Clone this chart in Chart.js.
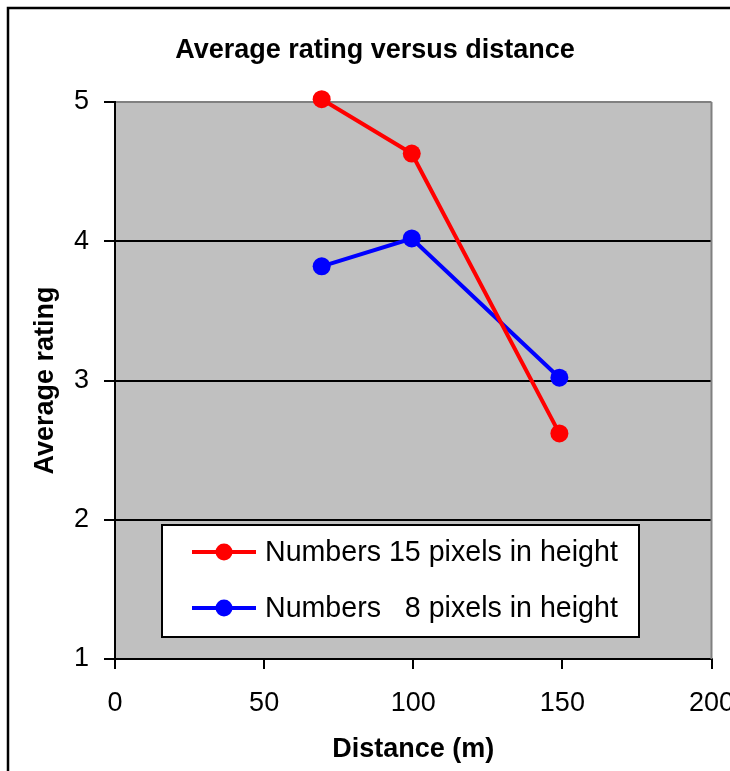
<!DOCTYPE html>
<html>
<head>
<meta charset="utf-8">
<script src="https://cdn.jsdelivr.net/npm/chart.js@4.4.1/dist/chart.umd.min.js"></script>
<style>
  html, body { margin: 0; padding: 0; background: #fff; }
  #wrap { width: 730px; height: 771px; position: relative; }
</style>
</head>
<body>
<div id="wrap"><canvas id="chart"></canvas></div>
<script>
// values
const distances = [69.3, 99.5, 149];
const rating15px = [5.02, 4.63, 2.62];
const rating8px = [3.82, 4.02, 3.02];
const seriesLabels = ['Numbers 15 pixels in height', 'Numbers   8 pixels in height'];
const xTicks = [0, 50, 100, 150, 200];
const yTicks = [1, 2, 3, 4, 5];
const chartTitle = 'Average rating versus distance';

const FONT = 'Liberation Sans, Arial, Helvetica, sans-serif';

const toPoints = (xs, ys) => xs.map((x, i) => ({ x: x, y: ys[i] }));

// grey plot area, frame round the whole chart, title
const backdrop = {
  id: 'backdrop',
  beforeDraw(chart) {
    const { ctx, chartArea: a } = chart;
    ctx.save();
    ctx.fillStyle = '#c0c0c0';
    ctx.fillRect(a.left, a.top, a.right - a.left, a.bottom - a.top);
    ctx.strokeStyle = '#000';
    ctx.lineWidth = 2.5;
    ctx.strokeRect(8, 8, chart.width + 20, chart.height + 20);
    ctx.fillStyle = '#000';
    ctx.font = 'bold 27px ' + FONT;
    ctx.textAlign = 'center';
    ctx.textBaseline = 'middle';
    ctx.fillText(chartTitle, 375, 51);
    ctx.restore();
  },
  beforeDatasetsDraw(chart) {
    const { ctx, chartArea: a } = chart;
    ctx.save();
    ctx.strokeStyle = '#808080';
    ctx.lineWidth = 2;
    ctx.beginPath();
    ctx.moveTo(a.right, a.top);
    ctx.lineTo(a.right, a.bottom);
    ctx.stroke();
    ctx.restore();
  }
};

// boxed legend sitting inside the plot area
const boxLegend = {
  id: 'boxLegend',
  afterDraw(chart) {
    const { ctx, chartArea: a } = chart;
    const x = a.left + 47, y = a.top + 423, w = 477, h = 112;
    ctx.save();
    ctx.fillStyle = '#fff';
    ctx.fillRect(x, y, w, h);
    ctx.strokeStyle = '#000';
    ctx.lineWidth = 2;
    ctx.strokeRect(x, y, w, h);
    chart.data.datasets.forEach((ds, i) => {
      const cy = y + 27 + i * 56;
      ctx.strokeStyle = ds.borderColor;
      ctx.lineWidth = 4;
      ctx.beginPath();
      ctx.moveTo(x + 30, cy);
      ctx.lineTo(x + 94, cy);
      ctx.stroke();
      ctx.fillStyle = ds.backgroundColor;
      ctx.beginPath();
      ctx.arc(x + 62, cy, 8.5, 0, Math.PI * 2);
      ctx.fill();
      ctx.fillStyle = '#000';
      ctx.font = '28.6px ' + FONT;
      ctx.textBaseline = 'middle';
      ctx.textAlign = 'left';
      ctx.fillText(ds.label, x + 103, cy + 1);
    });
    ctx.restore();
  }
};

const data = {
  datasets: [
    {
      label: seriesLabels[0],
      data: toPoints(distances, rating15px),
      borderColor: '#ff0000',
      backgroundColor: '#ff0000',
    },
    {
      label: seriesLabels[1],
      data: toPoints(distances, rating8px),
      borderColor: '#0000ff',
      backgroundColor: '#0000ff',
    }
  ]
};

const options = {
  responsive: true,
  maintainAspectRatio: false,
  animation: false,
  layout: { padding: { top: 102, right: 18.5, left: 0, bottom: 0 }, autoPadding: false },
  elements: {
    line: { borderWidth: 4, tension: 0 },
    point: { radius: 9, borderWidth: 0, hoverRadius: 9 }
  },
  datasets: { line: { clip: false } },
  plugins: {
    legend: { display: false },
    tooltip: { enabled: false },
    title: { display: false }
  },
  scales: {
    x: {
      type: 'linear',
      min: 0,
      max: 200,
      afterBuildTicks: (scale) => { scale.ticks = xTicks.map(v => ({ value: v })); },
      afterFit: (scale) => {
        scale.height = 112;
        scale.paddingLeft = 0;
        scale.paddingRight = 0;
      },
      ticks: {
        color: '#000',
        font: { family: FONT, size: 27 },
        padding: 18,
        maxRotation: 0
      },
      grid: {
        drawOnChartArea: false,
        drawTicks: true,
        tickLength: 10,
        tickColor: '#000',
        tickWidth: 2,
        color: '#000',
        lineWidth: 2
      },
      border: { color: '#000', width: 2 },
      title: {
        display: true,
        text: 'Distance (m)',
        color: '#000',
        font: { family: FONT, size: 27, weight: 'bold' },
        padding: { top: 0, bottom: 5 }
      }
    },
    y: {
      type: 'linear',
      min: 1,
      max: 5,
      afterBuildTicks: (scale) => { scale.ticks = yTicks.map(v => ({ value: v })); },
      afterFit: (scale) => {
        scale.width = 115;
        scale.paddingTop = 0;
        scale.paddingBottom = 0;
      },
      ticks: {
        color: '#000',
        font: { family: FONT, size: 27 },
        padding: 15
      },
      grid: {
        drawTicks: true,
        tickLength: 11,
        tickColor: '#000',
        tickWidth: 2,
        color: (ctx) => (ctx.tick && ctx.tick.value === 5 ? '#808080' : '#000'),
        lineWidth: 2
      },
      border: { color: '#000', width: 2 },
      title: {
        display: true,
        text: 'Average rating',
        color: '#000',
        font: { family: FONT, size: 27, weight: 'bold' },
        padding: { top: 29, bottom: 0 }
      }
    }
  }
};

new Chart(document.getElementById('chart'), {
  type: 'line',
  data: data,
  options: options,
  plugins: [backdrop, boxLegend]
});
</script>
</body>
</html>
